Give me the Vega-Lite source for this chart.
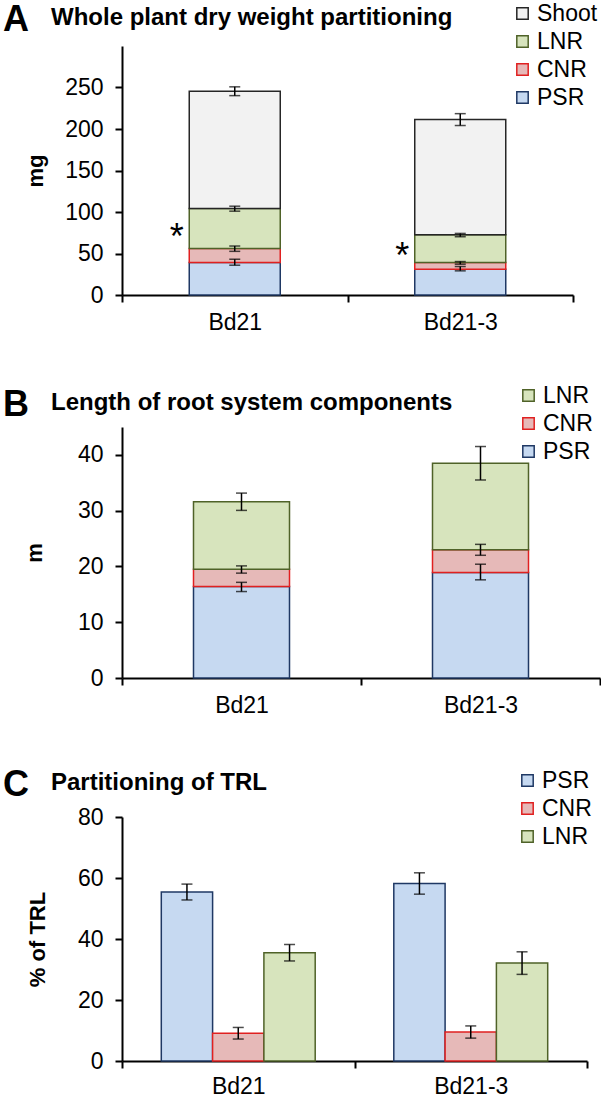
{
  "$schema": "https://vega.github.io/schema/vega-lite/v6.json",
  "padding": {"left": 3, "top": 2, "right": 0, "bottom": 0},
  "autosize": {"type": "pad"},
  "background": "white",
  "spacing": 50,
  "resolve": {"scale": {"fill": "independent", "stroke": "independent"}},
  "config": {
    "font": "Liberation Sans",
    "view": {"stroke": null},
    "axis": {"domainColor": "black", "domainWidth": 2, "tickColor": "black", "tickWidth": 2, "tickSize": 7, "labelFont": "Liberation Sans", "labelFontSize": 23, "labelColor": "black", "titleFont": "Liberation Sans", "titleFontSize": 22, "titleFontWeight": "bold", "titleColor": "black", "grid": false},
    "legend": {"orient": "none", "title": null, "symbolType": "square", "symbolSize": 130, "symbolStrokeWidth": 1.5, "labelFont": "Liberation Sans", "labelFontSize": 23, "labelColor": "black", "rowPadding": 4, "labelOffset": 3},
    "title": {"anchor": "start", "frame": "group", "font": "Liberation Sans", "fontSize": 36, "fontWeight": "bold", "color": "black", "subtitleFont": "Liberation Sans", "subtitleFontSize": 24, "subtitleFontWeight": "bold", "subtitleColor": "black", "dx": -119, "subtitlePadding": -33}
  },
  "vconcat": [
    {
      "width": 451,
      "height": 249,
      "title": {"text": "A", "subtitle": "\u200b\u2003\u2003Whole plant dry weight partitioning", "offset": -37},
      "data": {"values": [
        {"genotype": "Bd21", "component": "PSR", "layer": 1, "value": 39.1, "lo": 35.9, "hi": 43.1},
        {"genotype": "Bd21", "component": "CNR", "layer": 2, "value": 16.8, "lo": 52.6, "hi": 59.0},
        {"genotype": "Bd21", "component": "LNR", "layer": 3, "value": 48.2, "lo": 101.0, "hi": 107.0},
        {"genotype": "Bd21", "component": "Shoot", "layer": 4, "value": 141.5, "lo": 240.2, "hi": 250.8},
        {"genotype": "Bd21-3", "component": "PSR", "layer": 1, "value": 31.1, "lo": 29.1, "hi": 34.3},
        {"genotype": "Bd21-3", "component": "CNR", "layer": 2, "value": 8.0, "lo": 37.1, "hi": 40.3},
        {"genotype": "Bd21-3", "component": "LNR", "layer": 3, "value": 33.5, "lo": 70.2, "hi": 74.2},
        {"genotype": "Bd21-3", "component": "Shoot", "layer": 4, "value": 138.8, "lo": 204.2, "hi": 218.5}
      ]},
      "layer": [
        {
          "mark": {"type": "bar", "width": 91, "strokeWidth": 1.5},
          "encoding": {
            "x": {"field": "genotype", "type": "nominal", "sort": ["Bd21", "Bd21-3"], "scale": {"paddingInner": 0, "paddingOuter": 0}, "axis": {"title": null, "tickBand": "extent", "labelPadding": 9, "labelAngle": 0}},
            "y": {"field": "value", "type": "quantitative", "stack": "zero", "title": "mg", "scale": {"domain": [0, 300]}, "axis": {"values": [0, 50, 100, 150, 200, 250], "labelPadding": 12, "titlePadding": 17}},
            "fill": {"field": "component", "type": "nominal", "scale": {"domain": ["Shoot", "LNR", "CNR", "PSR"], "range": ["#f2f2f2", "#d7e4bd", "#e6b9b8", "#c6d9f1"]}, "legend": {"legendX": 389, "legendY": -44}},
            "stroke": {"field": "component", "type": "nominal", "scale": {"domain": ["Shoot", "LNR", "CNR", "PSR"], "range": ["#262626", "#4f6228", "#e02020", "#1f3864"]}, "legend": {"legendX": 389, "legendY": -44}},
            "order": {"field": "layer", "type": "quantitative"}
          }
        },
        {
          "mark": {"type": "rule", "color": "black", "strokeWidth": 1.5},
          "encoding": {
            "x": {"field": "genotype", "type": "nominal", "sort": ["Bd21", "Bd21-3"], "title": null},
            "y": {"field": "lo", "type": "quantitative", "title": "mg"},
            "y2": {"field": "hi", "title": "mg"}
          }
        },
        {
          "mark": {"type": "tick", "color": "black", "thickness": 1.5, "size": 11},
          "encoding": {
            "x": {"field": "genotype", "type": "nominal", "sort": ["Bd21", "Bd21-3"], "title": null},
            "y": {"field": "lo", "type": "quantitative", "title": "mg"}
          }
        },
        {
          "mark": {"type": "tick", "color": "black", "thickness": 1.5, "size": 11},
          "encoding": {
            "x": {"field": "genotype", "type": "nominal", "sort": ["Bd21", "Bd21-3"], "title": null},
            "y": {"field": "hi", "type": "quantitative", "title": "mg"}
          }
        },
        {
          "data": {"values": [
            {"genotype": "Bd21", "label": "*", "y": 75},
            {"genotype": "Bd21-3", "label": "*", "y": 52}
          ]},
          "mark": {"type": "text", "fontSize": 36, "font": "Liberation Sans", "color": "black", "dx": -58, "baseline": "middle", "dy": 5},
          "encoding": {
            "x": {"field": "genotype", "type": "nominal", "sort": ["Bd21", "Bd21-3"], "title": null},
            "y": {"field": "y", "type": "quantitative", "title": "mg"},
            "text": {"field": "label"}
          }
        }
      ]
    },
    {
      "spacing": 50,
      "resolve": {"scale": {"fill": "independent", "stroke": "independent"}},
      "vconcat": [
        {
          "width": 478,
          "height": 251,
          "title": {"text": "B", "subtitle": "\u200b\u2003\u2003Length of root system components", "offset": -40},
          "data": {"values": [
            {"genotype": "Bd21", "component": "PSR", "layer": 1, "value": 16.4, "lo": 15.5, "hi": 17.15},
            {"genotype": "Bd21", "component": "CNR", "layer": 2, "value": 3.1, "lo": 18.8, "hi": 20.1},
            {"genotype": "Bd21", "component": "LNR", "layer": 3, "value": 12.1, "lo": 30.05, "hi": 33.15},
            {"genotype": "Bd21-3", "component": "PSR", "layer": 1, "value": 18.9, "lo": 17.6, "hi": 20.4},
            {"genotype": "Bd21-3", "component": "CNR", "layer": 2, "value": 4.1, "lo": 22.0, "hi": 23.96},
            {"genotype": "Bd21-3", "component": "LNR", "layer": 3, "value": 15.5, "lo": 35.5, "hi": 41.5}
          ]},
          "layer": [
            {
              "mark": {"type": "bar", "width": 96, "strokeWidth": 1.5},
              "encoding": {
                "x": {"field": "genotype", "type": "nominal", "sort": ["Bd21", "Bd21-3"], "scale": {"paddingInner": 0, "paddingOuter": 0}, "axis": {"title": null, "tickBand": "extent", "labelPadding": 9, "labelAngle": 0}},
                "y": {"field": "value", "type": "quantitative", "stack": "zero", "title": "m", "scale": {"domain": [0, 45]}, "axis": {"values": [0, 10, 20, 30, 40], "labelPadding": 12, "titlePadding": 31}},
                "fill": {"field": "component", "type": "nominal", "scale": {"domain": ["LNR", "CNR", "PSR"], "range": ["#d7e4bd", "#e6b9b8", "#c6d9f1"]}, "legend": {"legendX": 395, "legendY": -43}},
                "stroke": {"field": "component", "type": "nominal", "scale": {"domain": ["LNR", "CNR", "PSR"], "range": ["#4f6228", "#e02020", "#1f3864"]}, "legend": {"legendX": 395, "legendY": -43}},
                "order": {"field": "layer", "type": "quantitative"}
              }
            },
            {
              "mark": {"type": "rule", "color": "black", "strokeWidth": 1.5},
              "encoding": {
                "x": {"field": "genotype", "type": "nominal", "sort": ["Bd21", "Bd21-3"], "title": null},
                "y": {"field": "lo", "type": "quantitative", "title": "m"},
                "y2": {"field": "hi", "title": "m"}
              }
            },
            {
              "mark": {"type": "tick", "color": "black", "thickness": 1.5, "size": 11},
              "encoding": {
                "x": {"field": "genotype", "type": "nominal", "sort": ["Bd21", "Bd21-3"], "title": null},
                "y": {"field": "lo", "type": "quantitative", "title": "m"}
              }
            },
            {
              "mark": {"type": "tick", "color": "black", "thickness": 1.5, "size": 11},
              "encoding": {
                "x": {"field": "genotype", "type": "nominal", "sort": ["Bd21", "Bd21-3"], "title": null},
                "y": {"field": "hi", "type": "quantitative", "title": "m"}
              }
            }
          ]
        },
        {
          "width": 465,
          "height": 244,
          "title": {"text": "C", "subtitle": "\u200b\u2003\u2003Partitioning of TRL", "offset": -35},
          "data": {"values": [
            {"genotype": "Bd21", "component": "PSR", "value": 55.4, "lo": 52.8, "hi": 58.0},
            {"genotype": "Bd21", "component": "CNR", "value": 9.1, "lo": 7.2, "hi": 11.0},
            {"genotype": "Bd21", "component": "LNR", "value": 35.5, "lo": 32.8, "hi": 38.2},
            {"genotype": "Bd21-3", "component": "PSR", "value": 58.2, "lo": 54.7, "hi": 61.7},
            {"genotype": "Bd21-3", "component": "CNR", "value": 9.5, "lo": 7.5, "hi": 11.5},
            {"genotype": "Bd21-3", "component": "LNR", "value": 32.1, "lo": 28.4, "hi": 35.8}
          ]},
          "layer": [
            {
              "mark": {"type": "bar", "strokeWidth": 1.5},
              "encoding": {
                "x": {"field": "genotype", "type": "nominal", "sort": ["Bd21", "Bd21-3"], "scale": {"paddingInner": 0, "paddingOuter": 0}, "axis": {"title": null, "tickBand": "extent", "labelPadding": 7, "labelAngle": 0}},
                "xOffset": {"field": "component", "type": "nominal", "sort": ["PSR", "CNR", "LNR"], "scale": {"paddingInner": 0, "paddingOuter": 0.766}},
                "y": {"field": "value", "type": "quantitative", "title": "% of TRL", "scale": {"domain": [0, 80]}, "axis": {"values": [0, 20, 40, 60, 80], "labelPadding": 12, "titlePadding": 28}},
                "fill": {"field": "component", "type": "nominal", "scale": {"domain": ["PSR", "CNR", "LNR"], "range": ["#c6d9f1", "#e6b9b8", "#d7e4bd"]}, "legend": {"legendX": 394, "legendY": -48}},
                "stroke": {"field": "component", "type": "nominal", "scale": {"domain": ["PSR", "CNR", "LNR"], "range": ["#1f3864", "#e02020", "#4f6228"]}, "legend": {"legendX": 394, "legendY": -48}}
              }
            },
            {
              "mark": {"type": "rule", "color": "black", "strokeWidth": 1.5},
              "encoding": {
                "x": {"field": "genotype", "type": "nominal", "sort": ["Bd21", "Bd21-3"], "title": null},
                "xOffset": {"field": "component", "type": "nominal", "sort": ["PSR", "CNR", "LNR"]},
                "y": {"field": "lo", "type": "quantitative", "title": "% of TRL"},
                "y2": {"field": "hi", "title": "% of TRL"}
              }
            },
            {
              "mark": {"type": "tick", "color": "black", "thickness": 1.5, "size": 11},
              "encoding": {
                "x": {"field": "genotype", "type": "nominal", "sort": ["Bd21", "Bd21-3"], "title": null},
                "xOffset": {"field": "component", "type": "nominal", "sort": ["PSR", "CNR", "LNR"]},
                "y": {"field": "lo", "type": "quantitative", "title": "% of TRL"}
              }
            },
            {
              "mark": {"type": "tick", "color": "black", "thickness": 1.5, "size": 11},
              "encoding": {
                "x": {"field": "genotype", "type": "nominal", "sort": ["Bd21", "Bd21-3"], "title": null},
                "xOffset": {"field": "component", "type": "nominal", "sort": ["PSR", "CNR", "LNR"]},
                "y": {"field": "hi", "type": "quantitative", "title": "% of TRL"}
              }
            }
          ]
        }
      ]
    }
  ]
}
